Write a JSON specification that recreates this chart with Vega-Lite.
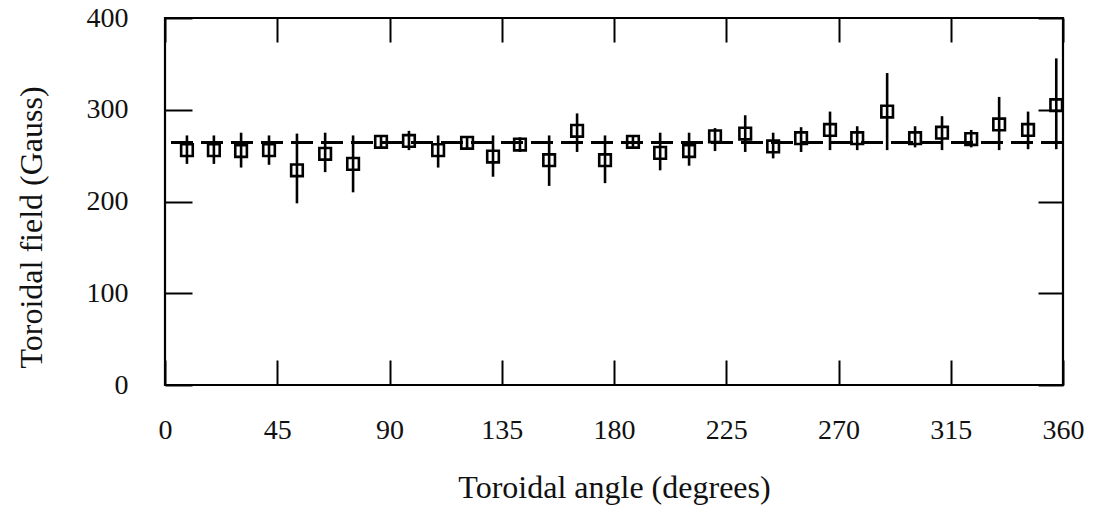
{
  "$schema": "https://vega.github.io/schema/vega-lite/v6.json",
  "width": 898,
  "height": 367,
  "autosize": {"type": "none"},
  "padding": {"left": 165, "top": 18, "right": 36, "bottom": 133},
  "background": "white",
  "config": {
    "view": {"stroke": "black", "strokeWidth": 2.2},
    "font": "Liberation Serif",
    "axis": {
      "grid": false,
      "domain": false,
      "tickColor": "black",
      "tickWidth": 2,
      "labelFont": "Liberation Serif",
      "labelFontSize": 28,
      "labelColor": "#111",
      "titleFont": "Liberation Serif",
      "titleFontSize": 32,
      "titleFontWeight": "normal",
      "titleColor": "#111"
    }
  },
  "data": {
    "values": [
      {"angle": 8.8, "field": 256, "lo": 241, "hi": 272},
      {"angle": 19.6, "field": 256, "lo": 241, "hi": 272},
      {"angle": 30.5, "field": 255, "lo": 237, "hi": 275},
      {"angle": 41.7, "field": 256, "lo": 240, "hi": 272},
      {"angle": 52.9, "field": 234, "lo": 198, "hi": 274},
      {"angle": 64.2, "field": 252, "lo": 232, "hi": 275},
      {"angle": 75.4, "field": 241, "lo": 210, "hi": 272},
      {"angle": 86.6, "field": 265, "lo": 258, "hi": 272},
      {"angle": 97.8, "field": 266, "lo": 256, "hi": 277},
      {"angle": 109.5, "field": 256, "lo": 237, "hi": 272},
      {"angle": 121.1, "field": 264, "lo": 257, "hi": 271},
      {"angle": 131.5, "field": 249, "lo": 227, "hi": 272},
      {"angle": 142.3, "field": 262, "lo": 254, "hi": 270},
      {"angle": 154.0, "field": 245, "lo": 217, "hi": 272},
      {"angle": 165.2, "field": 277, "lo": 254, "hi": 296},
      {"angle": 176.4, "field": 245, "lo": 220, "hi": 272},
      {"angle": 187.6, "field": 265, "lo": 258, "hi": 272},
      {"angle": 198.5, "field": 253, "lo": 234, "hi": 275},
      {"angle": 210.1, "field": 255, "lo": 239, "hi": 275},
      {"angle": 220.5, "field": 271, "lo": 255, "hi": 280},
      {"angle": 232.6, "field": 274, "lo": 254, "hi": 294},
      {"angle": 243.8, "field": 260, "lo": 247, "hi": 275},
      {"angle": 255.0, "field": 269, "lo": 254, "hi": 281},
      {"angle": 266.6, "field": 278, "lo": 256, "hi": 298},
      {"angle": 277.5, "field": 269, "lo": 256, "hi": 282},
      {"angle": 289.5, "field": 298, "lo": 256, "hi": 340},
      {"angle": 300.7, "field": 269, "lo": 259, "hi": 282},
      {"angle": 311.5, "field": 275, "lo": 256, "hi": 293},
      {"angle": 323.2, "field": 268, "lo": 259, "hi": 278},
      {"angle": 334.4, "field": 284, "lo": 256, "hi": 314},
      {"angle": 346.0, "field": 278, "lo": 257, "hi": 298},
      {"angle": 357.3, "field": 305, "lo": 257, "hi": 356}
    ]
  },
  "resolve": {"axis": {"x": "independent", "y": "independent"}},
  "layer": [
    {
      "mark": {"type": "rule", "strokeDash": [22, 8], "strokeWidth": 2, "color": "black"},
      "encoding": {
        "y": {"datum": 264, "type": "quantitative", "scale": {"domain": [0, 400], "nice": false}, "axis": null}
      }
    },
    {
      "mark": {"type": "rule", "strokeWidth": 2.6, "color": "black"},
      "encoding": {
        "x": {"field": "angle", "type": "quantitative", "scale": {"domain": [0, 360], "nice": false},
              "axis": {"orient": "top", "values": [0, 45, 90, 135, 180, 225, 270, 315, 360], "labels": false, "title": null, "tickSize": -24}},
        "y": {"field": "lo", "type": "quantitative", "scale": {"domain": [0, 400], "nice": false},
              "axis": {"orient": "right", "values": [0, 100, 200, 300, 400], "labels": false, "title": null, "tickSize": -25}},
        "y2": {"field": "hi"}
      }
    },
    {
      "mark": {"type": "point", "shape": "square", "filled": false, "size": 135, "strokeWidth": 2.6, "color": "black", "opacity": 1},
      "encoding": {
        "x": {"field": "angle", "type": "quantitative", "scale": {"domain": [0, 360], "nice": false},
              "axis": {"orient": "bottom", "values": [0, 45, 90, 135, 180, 225, 270, 315, 360], "tickSize": -25, "labelPadding": 78, "labelBaseline": "alphabetic", "labelFlush": false,
                       "title": "Toroidal angle (degrees)", "titleX": 449, "titleY": 112, "titleBaseline": "alphabetic", "titleAnchor": "middle", "titleAlign": "center"}},
        "y": {"field": "field", "type": "quantitative", "scale": {"domain": [0, 400], "nice": false},
              "axis": {"orient": "left", "values": [0, 100, 200, 300, 400], "tickSize": -27, "labelPadding": 64, "labelBaseline": "middle", "labelFlush": false,
                       "title": "Toroidal field (Gauss)", "titleX": -124, "titleY": 209, "titleBaseline": "alphabetic", "titleAngle": -90, "titleAlign": "center"}}
      }
    }
  ]
}
